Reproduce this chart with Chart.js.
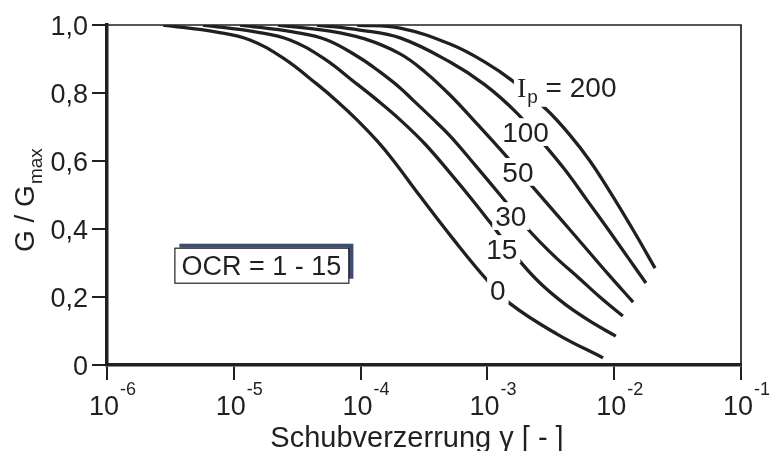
<!DOCTYPE html>
<html>
<head>
<meta charset="utf-8">
<script src="https://cdn.jsdelivr.net/npm/chart.js@4.4.1/dist/chart.umd.min.js"></script>
<style>
  html, body { margin: 0; padding: 0; background: #fff; }
  #wrap { width: 775px; height: 451px; position: relative; }
</style>
</head>
<body>
<div id="wrap"><canvas id="modulusChart"></canvas></div>
<script>
// G/Gmax over shear strain, one curve per plasticity index Ip
const ipLabels = ['0', '15', '30', '50', '100', '200'];

const strainIp0 = [2.77e-6, 7.36e-6, 1.34e-5, 2.44e-5, 4.53e-5, 6.52e-5, 9.37e-5, 1.35e-4, 1.80e-4, 2.94e-4, 5.36e-4, 9.93e-4, 1.53e-3, 3.54e-3, 8.17e-3];
const gIp0 = [1.0, 0.979, 0.956, 0.903, 0.826, 0.776, 0.721, 0.659, 0.603, 0.497, 0.371, 0.25, 0.179, 0.091, 0.021];

const strainIp15 = [5.71e-6, 1.52e-5, 2.77e-5, 5.05e-5, 9.38e-5, 1.35e-4, 2.05e-4, 3.22e-4, 5.07e-4, 7.98e-4, 1.15e-3, 1.74e-3, 2.60e-3, 4.09e-3, 6.44e-3, 1.03e-2];
const gIp15 = [1.0, 0.979, 0.956, 0.903, 0.826, 0.779, 0.721, 0.65, 0.565, 0.476, 0.40, 0.312, 0.241, 0.179, 0.129, 0.085];

const strainIp30 = [1.12e-5, 2.99e-5, 5.43e-5, 9.89e-5, 1.42e-4, 2.05e-4, 2.59e-4, 3.66e-4, 5.07e-4, 8.13e-4, 1.30e-3, 2.05e-3, 3.29e-3, 5.37e-3, 7.87e-3, 1.17e-2];
const gIp30 = [1.0, 0.979, 0.956, 0.903, 0.862, 0.815, 0.779, 0.726, 0.674, 0.585, 0.494, 0.403, 0.324, 0.253, 0.197, 0.144];

const strainIp50 = [2.23e-5, 5.74e-5, 1.08e-4, 2.05e-4, 3.22e-4, 5.07e-4, 8.43e-4, 1.38e-3, 2.25e-3, 3.61e-3, 5.68e-3, 8.93e-3, 1.41e-2];
const gIp50 = [1.0, 0.982, 0.959, 0.915, 0.862, 0.794, 0.706, 0.618, 0.526, 0.438, 0.353, 0.268, 0.185];

const strainIp100 = [4.53e-5, 9.89e-5, 2.05e-4, 5.07e-4, 9.57e-4, 1.71e-3, 2.74e-3, 4.09e-3, 6.10e-3, 9.27e-3, 1.29e-2, 1.78e-2];
const gIp100 = [1.0, 0.985, 0.962, 0.891, 0.824, 0.741, 0.653, 0.574, 0.485, 0.391, 0.315, 0.241];

const strainIp200 = [9.38e-5, 2.05e-4, 5.07e-4, 9.57e-4, 1.59e-3, 2.95e-3, 4.48e-3, 6.44e-3, 9.27e-3, 1.41e-2, 2.10e-2];
const gIp200 = [1.0, 0.991, 0.944, 0.891, 0.835, 0.75, 0.676, 0.60, 0.509, 0.397, 0.285];

const xTickValues = [1e-6, 1e-5, 1e-4, 1e-3, 1e-2, 1e-1];
const xTickExponents = ['-6', '-5', '-4', '-3', '-2', '-1'];
const yTickValues = [0, 0.2, 0.4, 0.6, 0.8, 1.0];
const yTickLabels = ['0', '0,2', '0,4', '0,6', '0,8', '1,0'];

const INK = '#231f20';
const SANS = "'Liberation Sans', Arial, sans-serif";
const SERIF = "'Liberation Serif', 'Times New Roman', serif";

const strains = [strainIp0, strainIp15, strainIp30, strainIp50, strainIp100, strainIp200];
const gValues = [gIp0, gIp15, gIp30, gIp50, gIp100, gIp200];

// where each Ip label sits on its curve (strain, G/Gmax)
const curveLabelAt = [
  { x: 1.21e-3, y: 0.221 },
  { x: 1.30e-3, y: 0.341 },
  { x: 1.53e-3, y: 0.438 },
  { x: 1.74e-3, y: 0.568 },
  { x: 2.0e-3, y: 0.685 },
  { x: 1.71e-3, y: 0.818 }
];

const datasets = ipLabels.map((ip, i) => ({
  label: 'Ip = ' + ip,
  data: strains[i].map((s, j) => ({ x: s, y: gValues[i][j] })),
  borderColor: INK,
  borderWidth: 3.3,
  pointRadius: 0,
  fill: false,
  tension: 0.4
}));

const figureText = {
  id: 'figureText',
  beforeDatasetsDraw(chart) {
    const { ctx, chartArea: a } = chart;
    ctx.save();
    ctx.strokeStyle = INK;
    ctx.lineWidth = 1.7;
    ctx.beginPath();
    ctx.moveTo(a.left, a.top);
    ctx.lineTo(a.right, a.top);
    ctx.lineTo(a.right, a.bottom);
    ctx.stroke();
    ctx.restore();
  },
  afterDatasetsDraw(chart) {
    const { ctx } = chart;
    const xs = chart.scales.x, ys = chart.scales.y;
    const cap = 19.8;
    ctx.save();
    ctx.textBaseline = 'alphabetic';
    ipLabels.forEach((ip, i) => {
      const px = xs.getPixelForValue(curveLabelAt[i].x);
      const py = ys.getPixelForValue(curveLabelAt[i].y);
      if (i < ipLabels.length - 1) {
        ctx.font = `28px ${SANS}`;
        const w = ctx.measureText(ip).width;
        ctx.fillStyle = '#fff';
        ctx.fillRect(px - w / 2 - 3, py - cap / 2 - 4, w + 6, cap + 8);
        ctx.fillStyle = INK;
        ctx.textAlign = 'center';
        ctx.fillText(ip, px, py + cap / 2);
      } else {
        // "I_p = 200", anchored on the left
        ctx.font = `28px ${SERIF}`;
        const wI = ctx.measureText('I').width;
        ctx.font = `19px ${SANS}`;
        const wp = ctx.measureText('p').width;
        ctx.font = `28px ${SANS}`;
        const rest = ' = ' + ip;
        const wr = ctx.measureText(rest).width;
        const total = wI + 1 + wp + wr;
        ctx.fillStyle = '#fff';
        ctx.fillRect(px - 3, py - cap / 2 - 4, total + 6, cap + 14);
        ctx.fillStyle = INK;
        ctx.textAlign = 'left';
        ctx.font = `28px ${SERIF}`;
        ctx.fillText('I', px, py + cap / 2);
        ctx.font = `19px ${SANS}`;
        ctx.fillText('p', px + wI + 1, py + cap / 2 + 6);
        ctx.font = `28px ${SANS}`;
        ctx.fillText(rest, px + wI + 1 + wp, py + cap / 2);
      }
    });
    ctx.restore();
  },
  afterDraw(chart) {
    const { ctx, chartArea: a } = chart;
    const xs = chart.scales.x, ys = chart.scales.y;
    ctx.save();
    ctx.fillStyle = INK;
    ctx.textBaseline = 'alphabetic';

    // y tick labels
    ctx.font = `27px ${SANS}`;
    ctx.textAlign = 'right';
    yTickValues.forEach((v, i) => {
      ctx.fillText(yTickLabels[i], a.left - 19, ys.getPixelForValue(v) + 9.5);
    });

    // x tick labels 10^n
    xTickValues.forEach((v, i) => {
      const px = xs.getPixelForValue(v) - 3;
      ctx.font = `27px ${SANS}`;
      ctx.textAlign = 'center';
      const w = ctx.measureText('10').width;
      ctx.fillText('10', px, a.bottom + 50);
      ctx.font = `18px ${SANS}`;
      ctx.textAlign = 'left';
      ctx.fillText(xTickExponents[i], px + w / 2 + 1, a.bottom + 30);
    });

    // x axis title
    ctx.font = `29px ${SANS}`;
    ctx.textAlign = 'center';
    ctx.fillText('Schubverzerrung \u03b3 [ - ]', 417, 447);

    // y axis title, rotated: G / G_max
    ctx.save();
    ctx.translate(34, 252);
    ctx.rotate(-Math.PI / 2);
    ctx.textAlign = 'left';
    ctx.font = `28px ${SANS}`;
    const main = 'G / G';
    ctx.fillText(main, 0, 0);
    const wm = ctx.measureText(main).width;
    ctx.font = `19px ${SANS}`;
    ctx.fillText('max', wm + 1, 8);
    ctx.restore();

    // OCR box with offset shadow
    const bx = xs.getPixelForValue(3.4e-6);
    const by = ys.getPixelForValue(0.345);
    const bw = 174, bh = 35;
    ctx.fillStyle = '#3d4c70';
    ctx.fillRect(bx + 5, by - 4, bw, bh);
    ctx.fillStyle = '#fff';
    ctx.fillRect(bx, by, bw, bh);
    ctx.strokeStyle = INK;
    ctx.lineWidth = 1.2;
    ctx.strokeRect(bx + 0.5, by + 0.5, bw, bh);
    ctx.fillStyle = INK;
    ctx.font = `27px ${SANS}`;
    ctx.textAlign = 'center';
    ctx.fillText('OCR = 1 - 15', bx + bw / 2, by + bh / 2 + 9.5);

    ctx.restore();
  }
};

new Chart(document.getElementById('modulusChart').getContext('2d'), {
  type: 'line',
  data: { datasets },
  options: {
    responsive: true,
    maintainAspectRatio: false,
    animation: false,
    devicePixelRatio: 1,
    layout: { padding: { top: 25, right: 34, left: 0, bottom: 0 } },
    plugins: {
      legend: { display: false },
      tooltip: { enabled: false }
    },
    scales: {
      x: {
        type: 'logarithmic',
        min: 1e-6,
        max: 1e-1,
        afterBuildTicks: s => { s.ticks = xTickValues.map(v => ({ value: v })); },
        afterFit: s => { s.height = 86; },
        ticks: { display: false },
        grid: { drawOnChartArea: false, drawTicks: true, tickLength: 15, lineWidth: 2, color: INK },
        border: { display: true, width: 3.5, color: INK }
      },
      y: {
        type: 'linear',
        min: 0,
        max: 1,
        afterBuildTicks: s => { s.ticks = yTickValues.map(v => ({ value: v })); },
        afterFit: s => { s.width = 107; },
        ticks: { display: false },
        grid: { drawOnChartArea: false, drawTicks: true, tickLength: 15, lineWidth: 2, color: INK },
        border: { display: true, width: 3.5, color: INK }
      }
    }
  },
  plugins: [figureText]
});
</script>
</body>
</html>
